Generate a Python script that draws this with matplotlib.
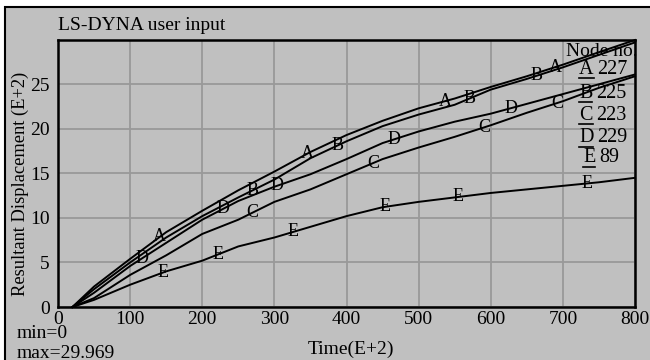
import numpy as np
import matplotlib
matplotlib.use('Agg')
import matplotlib.pyplot as plt
from matplotlib.patches import Rectangle
from matplotlib.lines import Line2D

plt.rcParams['font.family'] = 'Liberation Serif'

# Time (E+2) sample points
t = [20, 50, 100, 150, 200, 250, 300, 350, 400, 450, 500, 550, 600, 650, 700, 750, 800]

# Resultant displacement (E+2) per node
disp_a = [0, 2.3, 5.4, 8.4, 10.8, 13.1, 15.2, 17.4, 19.3, 20.9, 22.3, 23.4, 24.7, 25.9, 27.2, 28.6, 29.969]
disp_b = [0, 2.0, 5.0, 7.8, 10.2, 12.3, 14.3, 16.7, 18.6, 20.3, 21.6, 22.7, 24.4, 25.6, 26.9, 28.3, 29.7]
disp_c = [0, 1.0, 3.6, 5.8, 8.2, 9.8, 11.8, 13.2, 14.9, 16.6, 17.9, 19.1, 20.4, 21.8, 23.1, 24.6, 25.9]
disp_d = [0, 1.6, 4.6, 7.2, 9.8, 11.9, 13.5, 14.9, 16.6, 18.4, 19.7, 20.8, 21.7, 22.8, 23.9, 25.0, 26.1]
disp_e = [0, 0.8, 2.5, 4.0, 5.2, 6.8, 7.8, 9.0, 10.2, 11.2, 11.8, 12.3, 12.8, 13.2, 13.6, 14.0, 14.5]

letters = ['A', 'B', 'C', 'D', 'E']
nodes = ['227', '225', '223', '229', '89']

# times where the curve letters are written
mark_a = [141, 345, 537, 689]
mark_b = [270, 387, 570, 663]
mark_c = [269, 437, 591, 692]
mark_d = [116, 229, 304, 466, 628]
mark_e = [146, 222, 326, 454, 555, 734]

series = [disp_a, disp_b, disp_c, disp_d, disp_e]
marks = [mark_a, mark_b, mark_c, mark_d, mark_e]

gray = '#c0c0c0'
fig = plt.figure(figsize=(6.5, 3.6), dpi=100, facecolor='white')
fig.patches.append(Rectangle((5 / 650, -0.05), 1.1, 1 - 7 / 360 + 0.05, transform=fig.transFigure,
                             facecolor=gray, edgecolor='black', linewidth=1.5, zorder=-10))

ax = fig.add_axes([58 / 650, 1 - 307 / 360, 577 / 650, 267 / 360])
ax.set_facecolor(gray)

for ys, ms, letter in zip(series, marks, letters):
    ax.plot(t, ys, color='black', linewidth=1.4, clip_on=False, zorder=3)
    for m in ms:
        ax.text(m, np.interp(m, t, ys), letter, fontsize=13, ha='center', va='center', zorder=4)

ax.set_xlim(0, 800)
ax.set_ylim(0, 29.969)
ax.set_xticks(range(0, 801, 100))
ax.set_yticks(range(0, 26, 5))
ax.grid(True, color='#999999', linewidth=1.3)
ax.set_axisbelow(True)
ax.tick_params(length=0, labelsize=14)
ax.tick_params(axis='y', pad=6)
ax.tick_params(axis='x', pad=3)
for s in ax.spines.values():
    s.set_linewidth(1.8)

ax.set_xlabel('Time(E+2)', fontsize=14)
ax.xaxis.set_label_coords(0.508, -0.125)
ax.set_ylabel('Resultant Displacement (E+2)', fontsize=13.3)
ax.yaxis.set_label_coords(-0.05, 0.46)

fig.text(58 / 650, 1 - 26 / 360, 'LS-DYNA user input', fontsize=14, ha='left', va='center')
fig.text(17 / 650, 1 - 333 / 360, 'min=0', fontsize=14, ha='left', va='center')
fig.text(17 / 650, 1 - 353 / 360, 'max=29.969', fontsize=14, ha='left', va='center')

# node legend with underlined letters
fig.text(637 / 650, 1 - 52 / 360, 'Node no.', fontsize=14, ha='right', va='center')
renderer = fig.canvas.get_renderer()
leg_y = [69, 93, 115, 138, 158]
for i, (letter, node) in enumerate(zip(letters, nodes)):
    x0 = 579 if letter != 'E' else 583
    y0 = 1 - leg_y[i] / 360
    lt = fig.text(x0 / 650, y0, letter, fontsize=14.5, ha='left', va='center')
    bb = lt.get_window_extent(renderer)
    fig.text((bb.x1 + 4) / 650, y0, node, fontsize=14.5, ha='left', va='center')
    uy = (bb.y0 + 1) / 360
    fig.lines.append(Line2D([bb.x0 / 650, bb.x1 / 650], [uy, uy], transform=fig.transFigure,
                            color='black', linewidth=1.2))

fig.savefig('out.png', dpi=100, facecolor='white')
